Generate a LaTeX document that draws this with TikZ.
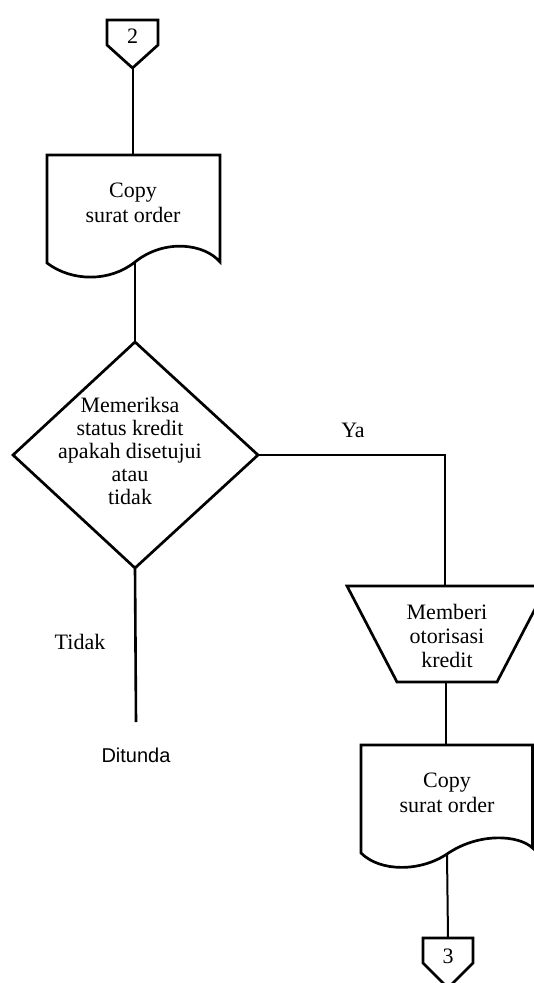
\documentclass[tikz,border=0pt]{standalone}
\usepackage{fontspec}
\setmainfont{Liberation Serif}
\newfontfamily\labelsans{Liberation Sans}
\begin{document}
\begin{tikzpicture}[x=0.5pt,y=-0.5pt,
  outline/.style={draw=black,line width=1.35pt,line join=miter},
  flow/.style={draw=black,line width=1pt},
  txt/.style={align=center,inner sep=0pt,font=\fontsize{11}{11.5}\selectfont},
  doctxt/.style={txt,font=\fontsize{11}{12.5}\selectfont},
  optxt/.style={txt,font=\fontsize{11}{12}\selectfont},
  sanslabel/.style={inner sep=0pt,font=\labelsans\fontsize{10}{12}\selectfont},
]
\useasboundingbox (0,0) rectangle (534,983);

% off-page connector 2
\draw[outline] (107,20) -- (158,20) -- (158,45) -- (132.5,68) -- (107,45) -- cycle;
\node[txt] (conTwo) at (132.5,36) {2};
\coordinate (conTwoTip) at (132.5,68);

% document: copy of the order
\draw[outline] (47,155) -- (220,155) -- (220,262)
  .. controls (205,244) and (165,238) .. (135,262)
  .. controls (110,282) and (72,282) .. (47,263) -- cycle;
\node[doctxt] (docOne) at (133,202.5) {Copy\\surat order};
\coordinate (docOneTop) at (132.5,155);
\coordinate (docOneBot) at (135,262);

% decision: credit status
\draw[outline] (135,342) -- (258,455) -- (135,568) -- (13,455) -- cycle;
\node[txt] (check) at (130,451) {Memeriksa\\status kredit\\apakah disetujui\\atau\\tidak};
\coordinate (chkTop) at (135,342);
\coordinate (chkRight) at (258,455);
\coordinate (chkBot) at (135,568);

% manual operation: credit authorisation
\draw[outline] (347,586) -- (547,586) -- (497,682) -- (397,682) -- cycle;
\node[optxt] (auth) at (447,636) {Memberi\\otorisasi\\kredit};
\coordinate (authTop) at (445,586);
\coordinate (authBot) at (446,682);

% document: copy of the order (authorised)
\draw[outline] (361,745) -- (532.5,745) -- (532.5,848)
  .. controls (519,835) and (479,832) .. (447,854)
  .. controls (420,872) and (380,872) .. (361,853) -- cycle;
\node[doctxt] (docTwo) at (447,792.5) {Copy\\surat order};
\coordinate (docTwoTop) at (446,745);
\coordinate (docTwoBot) at (447,854);

% off-page connector 3
\draw[outline] (423,938) -- (473,938) -- (473,963) -- (448,988) -- (423,963) -- cycle;
\node[txt] (conThree) at (448,956) {3};
\coordinate (conThreeTop) at (448,938);

% rejected branch end
\coordinate (tidakEnd) at (136,722);
\node[sanslabel] (ditunda) at (136,755) {Ditunda};

% connectors
\draw[flow] (conTwoTip) -- (docOneTop);
\draw[flow] (docOneBot) -- (chkTop);
\draw[flow] (chkRight) -| (authTop);
\draw[flow] (authBot) -- (docTwoTop);
\draw[flow] (docTwoBot) -- (conThreeTop);
\draw[flow,line width=1.3pt] (chkBot) -- (tidakEnd);

% branch labels
\node[txt] (ya) at (353,430) {Ya};
\node[txt] (tidak) at (80,642) {Tidak};
\end{tikzpicture}
\end{document}
